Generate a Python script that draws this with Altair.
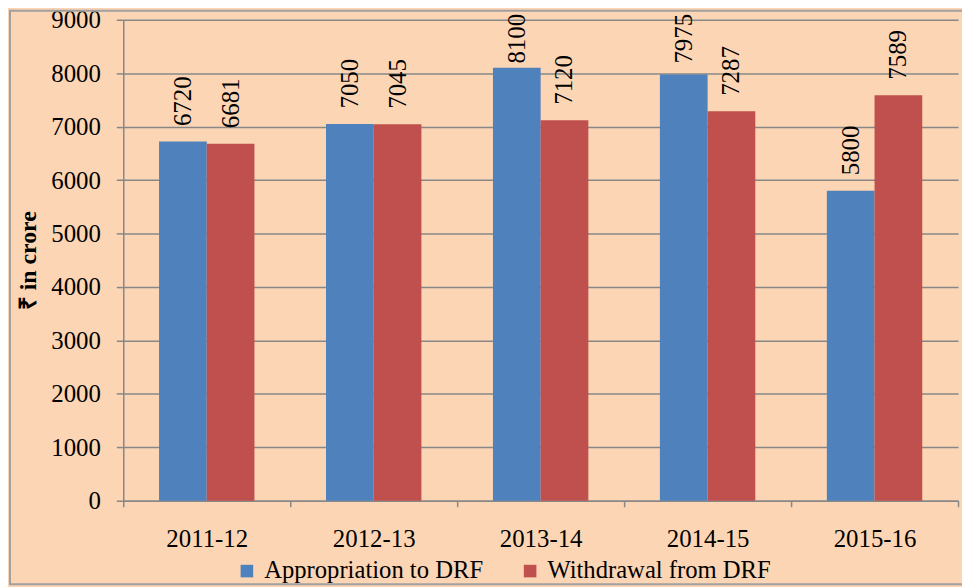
import altair as alt
import pandas as pd

years = ["2011-12", "2012-13", "2013-14", "2014-15", "2015-16"]
appropriation = [6720, 7050, 8100, 7975, 5800]
withdrawal = [6681, 7045, 7120, 7287, 7589]
series = ["Appropriation to DRF", "Withdrawal from DRF"]
colors = ["#4F81BD", "#C0504D"]

rows = []
for i, y in enumerate(years):
    rows.append({"year": y, "series": series[0], "value": appropriation[i]})
    rows.append({"year": y, "series": series[1], "value": withdrawal[i]})
df = pd.DataFrame(rows)

FONT = "Liberation Serif"
GRAY = "#878787"
BG = "#FCD5B5"

x_enc = alt.X("year:N", sort=years, scale=alt.Scale(paddingInner=0, paddingOuter=0),
              axis=alt.Axis(title=None, labelAngle=0, labelFont=FONT, labelFontSize=25,
                            labelColor="black", tickBand="extent", tickSize=6,
                            tickColor=GRAY, tickWidth=1.5, domainColor=GRAY,
                            domainWidth=1.5, labelPadding=20, grid=False))
xo_enc = alt.XOffset("series:N", sort=series, scale=alt.Scale(paddingOuter=0.75, paddingInner=0))
y_scale = alt.Scale(domain=[0, 9000], nice=False)

bars = alt.Chart(df).mark_bar().encode(
    x=x_enc,
    xOffset=xo_enc,
    y=alt.Y("value:Q", scale=y_scale,
            axis=alt.Axis(values=list(range(0, 9001, 1000)), format="d",
                          labelFont=FONT, labelFontSize=25, labelColor="black",
                          tickSize=7, tickColor=GRAY, tickWidth=1.5,
                          domainColor=GRAY, domainWidth=1.5, gridColor=GRAY,
                          gridWidth=1.5, labelPadding=16,
                          title="₹ in crore", titleFont=FONT, titleFontSize=24,
                          titleFontWeight="bold", titleColor="black",
                          titleAngle=270, titleX=-95, titleY=242,
                          titleAlign="center", titleBaseline="middle")),
    color=alt.Color("series:N", sort=series,
                    scale=alt.Scale(domain=series, range=colors),
                    legend=alt.Legend(title=None, orient="none", direction="horizontal",
                                      legendX=112, legendY=542, symbolType="square",
                                      symbolSize=160, symbolStrokeWidth=0,
                                      labelFont=FONT, labelFontSize=24.8,
                                      labelColor="black", labelOffset=5,
                                      columnPadding=34, labelLimit=400)),
)

labels = alt.Chart(df).transform_calculate(
    ly="min(datum.value + 290, 8180)"
).mark_text(angle=270, align="left", baseline="middle", font=FONT,
            fontSize=25, color="black").encode(
    x=alt.X("year:N", sort=years),
    xOffset=alt.XOffset("series:N", sort=series),
    y=alt.Y("ly:Q", scale=y_scale),
    text=alt.Text("value:Q", format="d"),
)

border = alt.Chart(pd.DataFrame({"a": [0]})).mark_rect(
    fill=None, stroke="#A0A0A0", strokeWidth=2, clip=False
).encode(x=alt.value(-114), x2=alt.value(860), y=alt.value(-9), y2=alt.value(568))

chart = alt.layer(bars, labels, border).properties(
    width=840, height=484,
    autosize=alt.AutoSizeParams(type="none"),
    padding={"left": 116, "top": 10, "right": 4, "bottom": 85},
    background=BG,
).configure_view(stroke=None)

chart.save("out.html", embed_options={"renderer": "svg", "actions": False})
